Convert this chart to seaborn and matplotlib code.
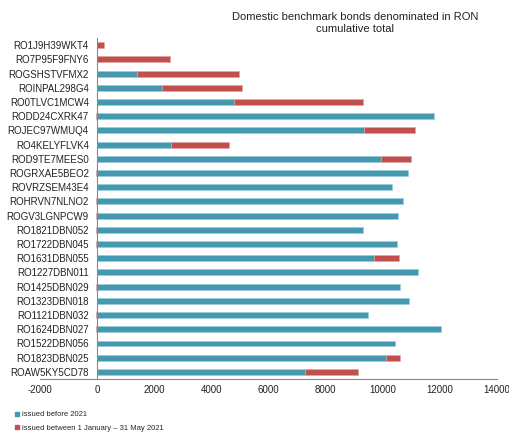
import numpy as np
import pandas as pd
import matplotlib
matplotlib.use("Agg")
import matplotlib.pyplot as plt
import seaborn as sns
from matplotlib.lines import Line2D

bonds = [
    "RO1J9H39WKT4", "RO7P95F9FNY6", "ROGSHSTVFMX2", "ROINPAL298G4", "RO0TLVC1MCW4",
    "RODD24CXRK47", "ROJEC97WMUQ4", "RO4KELYFLVK4", "ROD9TE7MEES0", "ROGRXAE5BEO2",
    "ROVRZSEM43E4", "ROHRVN7NLNO2", "ROGV3LGNPCW9", "RO1821DBN052", "RO1722DBN045",
    "RO1631DBN055", "RO1227DBN011", "RO1425DBN029", "RO1323DBN018", "RO1121DBN032",
    "RO1624DBN027", "RO1522DBN056", "RO1823DBN025", "ROAW5KY5CD78",
]
issued_before_2021 = [
    0, 0, 1413, 2288, 4788,
    11804, 9328, 2603, 9947, 10882,
    10309, 10694, 10519, 9305, 10497,
    9691, 11220, 10602, 10904, 9468,
    12038, 10427, 10112, 7275,
]
issued_2021 = [
    245, 2568, 3561, 2780, 4529,
    -30, 1786, 2010, 1027, -30,
    0, -30, -30, -30, -30,
    863, 0, -30, 0, -30,
    -30, 0, 477, 1843,
]

label_before = "issued before 2021"
label_2021 = "issued between 1 January \u2013 31 May 2021"
blue = "#4399B0"
red = "#C0504D"

sns.set_theme(style="white")
plt.rcParams["font.family"] = ["Liberation Sans", "DejaVu Sans"]
plt.rcParams["axes.unicode_minus"] = False

df = pd.DataFrame({"bond": bonds, "before": issued_before_2021, "new": issued_2021})
# red segments start where the blue ones end; reductions extend left of zero
df["start"] = np.where(df["new"] > 0, df["before"], 0)

fig = plt.figure(figsize=(5.09, 4.34), dpi=100)
ax = fig.add_axes([0.0786, 0.1267, 0.8977, 0.7857])

sns.barplot(data=df, x="before", y="bond", order=bonds, orient="y",
            color=blue, width=0.42, saturation=1, ax=ax,
            edgecolor="#9ccbd8", linewidth=0.4)
sns.barplot(data=df, x="new", y="bond", order=bonds, orient="y",
            color=red, width=0.42, saturation=1, ax=ax, left=df["start"].values,
            edgecolor="#e0a3a1", linewidth=0.4)

ax.set_xlim(-2000, 14000)
ax.set_xticks(np.arange(-2000, 14001, 2000))
ax.set_ylim(len(bonds) - 0.5, -0.5)
ax.set_xlabel("")
ax.set_ylabel("")
ax.tick_params(axis="both", labelsize=7, colors="#222222", length=0)
ax.tick_params(axis="y", pad=6)
ax.tick_params(axis="x", pad=4)
ax.set_yticks(np.arange(-0.5, len(bonds), 1), minor=True)
ax.tick_params(axis="y", which="minor", length=3, color="#aaaaaa", direction="out")

for s in ["top", "right"]:
    ax.spines[s].set_visible(False)
for s in ["left", "bottom"]:
    ax.spines[s].set_color("#888888")
    ax.spines[s].set_linewidth(0.8)
ax.spines["left"].set_position(("data", 0))
ax.grid(False)

fig.text(0.697, 0.972, "Domestic benchmark bonds denominated in RON\ncumulative total",
         ha="center", va="top", fontsize=8, color="#222222", linespacing=1.2)

handles = [
    Line2D([], [], marker="s", linestyle="none", markersize=3, color=blue, label=label_before),
    Line2D([], [], marker="s", linestyle="none", markersize=3, color=red, label=label_2021),
]
fig.legend(handles=handles, loc="lower left", bbox_to_anchor=(0.025, -0.002),
           frameon=False, fontsize=5.5, handlelength=0.4, handletextpad=0.4,
           labelspacing=0.8, borderaxespad=0)

fig.savefig("out.png", dpi=100)
